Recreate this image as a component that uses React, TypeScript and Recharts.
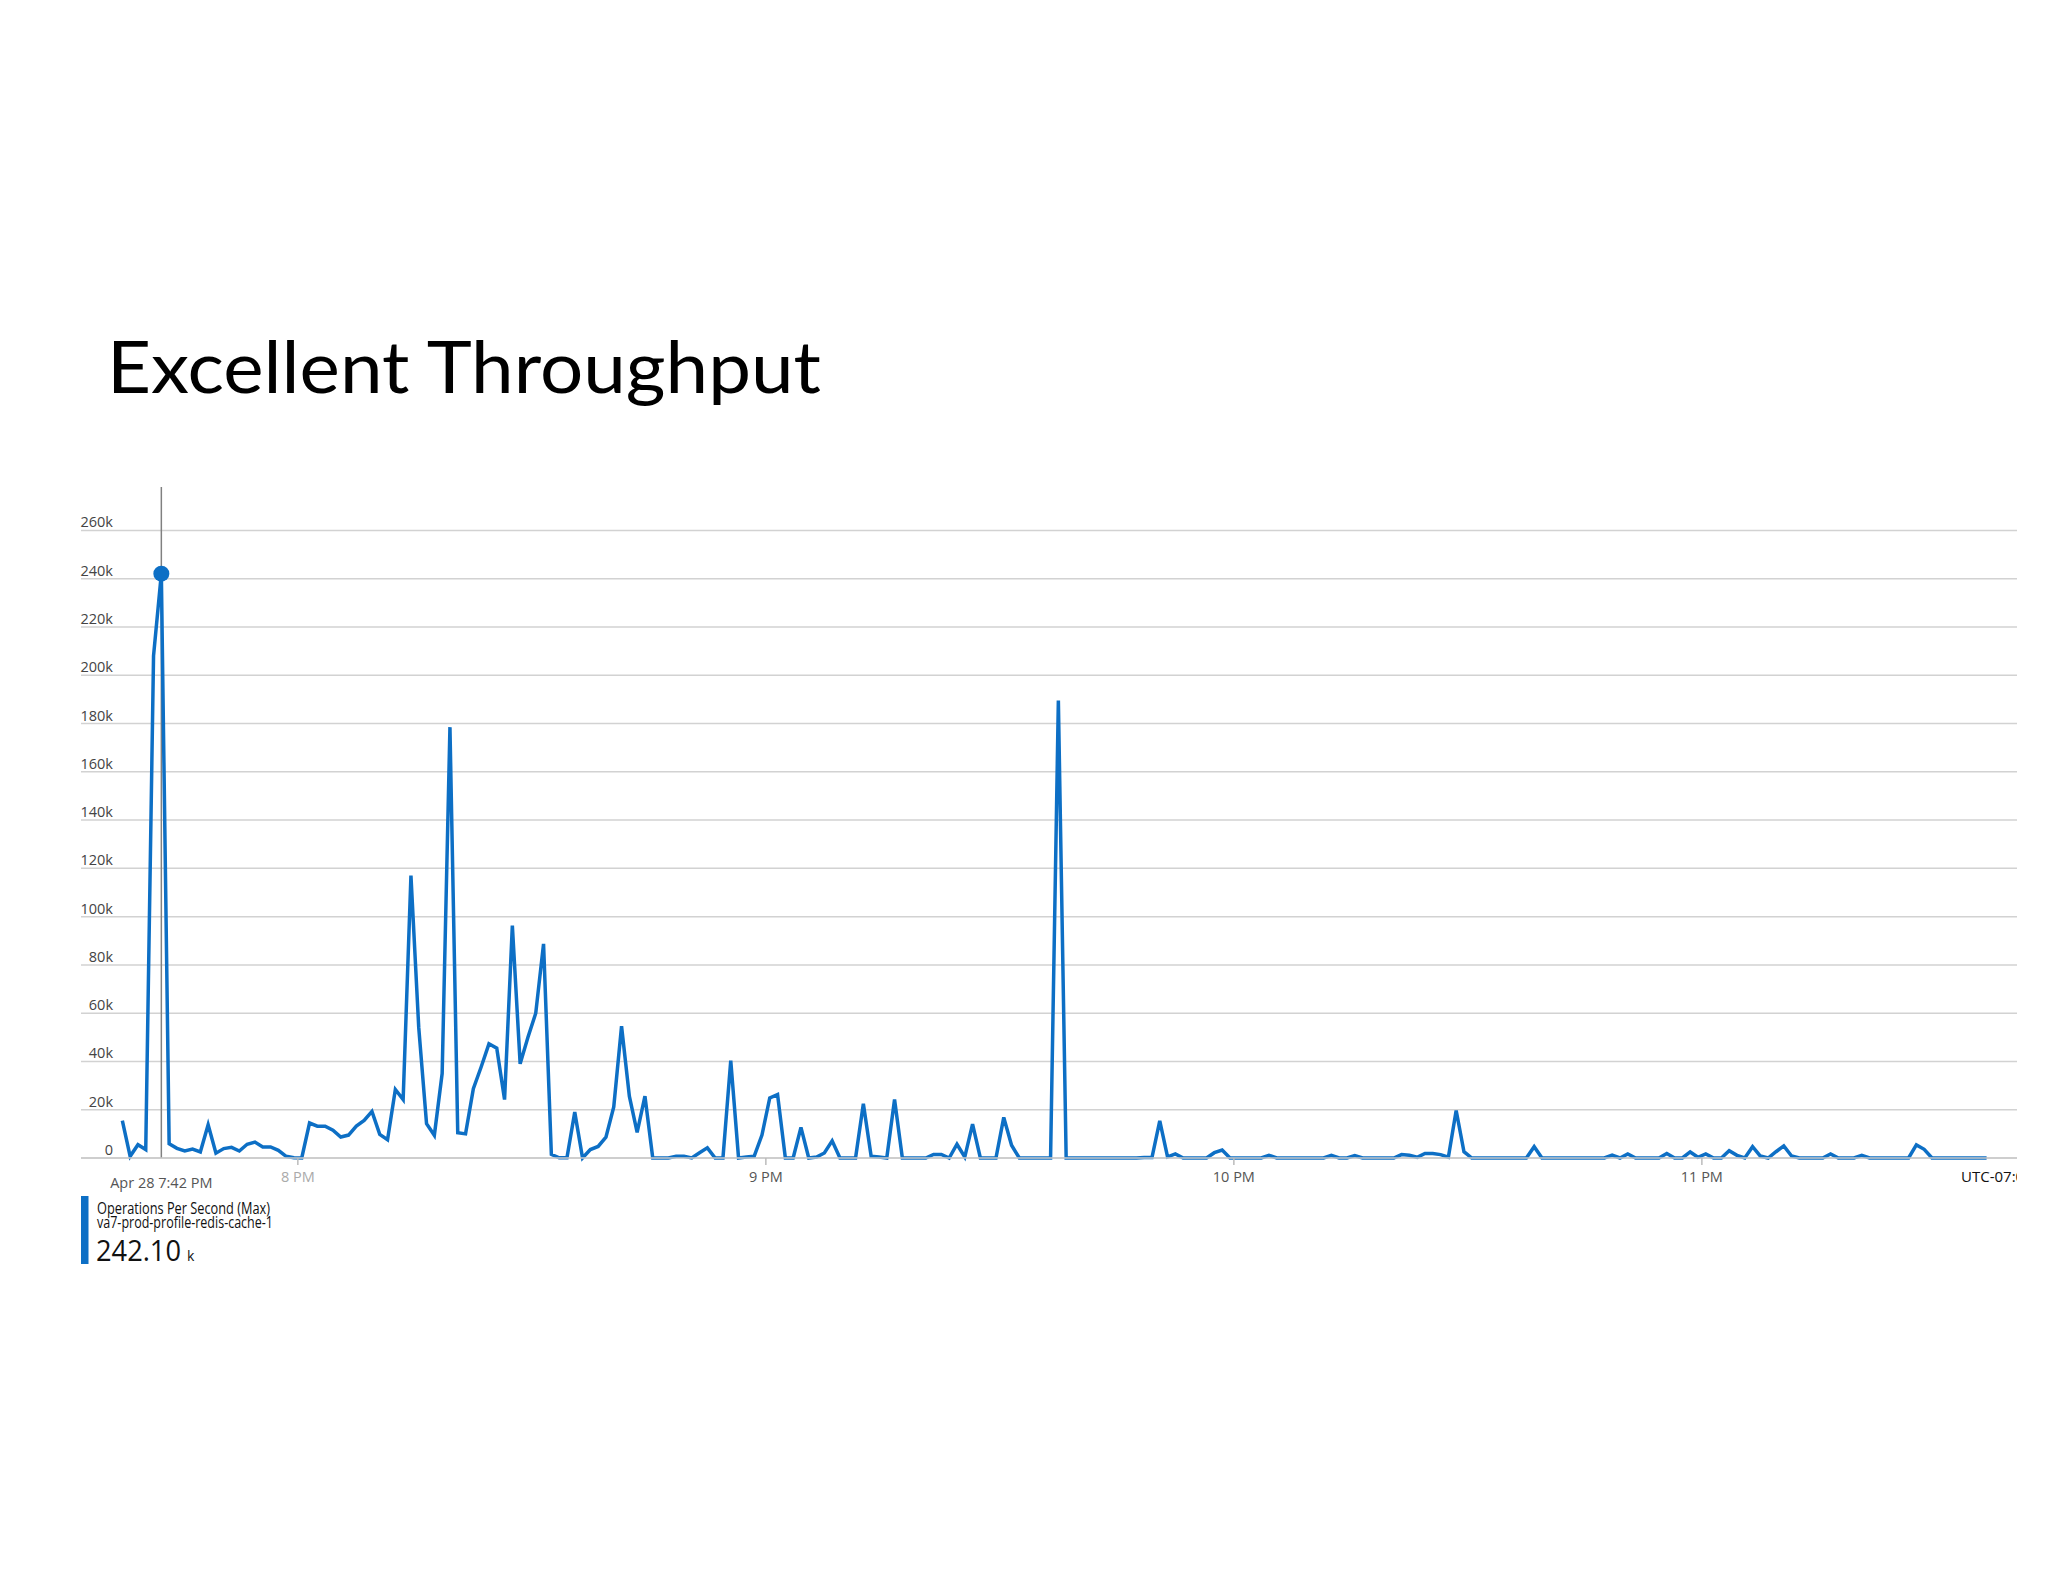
import { CartesianGrid, Line, LineChart, ReferenceDot, ReferenceLine, XAxis, YAxis } from 'recharts'

// minutes relative to 8 PM, one sample per minute (7:37:30 PM .. 11:36:30 PM)
const START_MINUTE = -22.5

// Operations Per Second (Max), in thousands
const OPS_K = [
  15.5, 0.7, 5.5, 3.5, 208, 242.1, 5.9, 4.0, 2.9, 3.7, 2.5, 13.8, 2.0, 3.9, 4.4, 2.9, 5.7, 6.6, 4.6, 4.6, 3.2, 0.7, 0.1,
  0, 14.5, 13.2, 13.2, 11.5, 8.7, 9.5, 13.2, 15.6, 19.3,
  9.8, 7.6, 28.4, 24.2, 117, 54, 14.2, 9.4, 35, 178.5,
  10.5, 10.0, 28.7, 37.7, 47.3, 45.5, 24.2, 96.3, 39, 50,
  60, 88.7, 1.5, 0.1, 0.1, 19, 0, 3.5, 4.8, 8.6,
  21.2,
  54.6, 25.6, 10.6, 25.6, 0, 0, 0, 0.7, 0.7, 0,
  2.2, 4.2, 0, 0, 40.3, 0, 0.4, 0.7, 9.5, 24.9,
  26.3, 0, 0, 12.7, 0, 0.4, 2.1, 7.1, 0, 0,
  0, 22.5, 0.7, 0.4, 0, 24.2, 0, 0, 0, 0,
  1.5, 1.5, 0, 5.7, 0.4, 14, 0, 0, 0, 16.8,
  5.3, 0, 0, 0, 0, 0, 189.5, 0, 0, 0,
  0, 0, 0, 0, 0, 0, 0, 0.2, 0.2, 15.4,
  0.5, 1.7, 0, 0, 0, 0, 2.2, 3.3, 0, 0,
  0, 0, 0, 1.1, 0, 0, 0, 0, 0, 0,
  0, 1.1, 0, 0, 1.0, 0, 0, 0, 0, 0,
  1.4, 1.1, 0.3, 1.9, 1.9, 1.4, 0.3, 19.7, 2.6, 0,
  0, 0, 0, 0, 0, 0, 0, 4.7, 0, 0,
  0, 0, 0, 0, 0, 0, 0, 1.2, 0, 1.7,
  0, 0, 0, 0, 1.9, 0, 0, 2.5, 0.3, 1.7,
  0, 0, 3.0, 1.1, 0, 4.7, 0.8, 0, 2.6, 5.0,
  0.8, 0, 0, 0, 0, 1.7, 0, 0, 0, 1.1,
  0, 0, 0, 0, 0, 0, 5.4, 3.6, 0, 0,
  0, 0, 0, 0, 0, 0,
]

const Y_TICKS = [0, 20, 40, 60, 80, 100, 120, 140, 160, 180, 200, 220, 240, 260]
const HOUR_TICKS = [0, 60, 120, 180]
const HOUR_LABELS = ['8 PM', '9 PM', '10 PM', '11 PM']

const CURSOR_MINUTE = -17.5
const CURSOR_VALUE = 242.1
const CURSOR_LABEL = 'Apr 28 7:42 PM'

const BLUE = '#0d6fc5'
const FONT = '"Open Sans", "Noto Sans", sans-serif'

const data = OPS_K.map((v, i) => ({ t: START_MINUTE + i, ops: v }))

function YTick({ x, y, payload }: any) {
  return (
    <text x={x + 32} y={y - 3} textAnchor="end" fontSize={14.5} fill="#444" fontFamily={FONT}>
      {payload.value === 0 ? '0' : `${payload.value}k`}
    </text>
  )
}

function XTick({ x, y, payload }: any) {
  const idx = HOUR_TICKS.indexOf(payload.value)
  return (
    <g>
      <line x1={x} x2={x} y1={y} y2={y + 7} stroke="#bbb" strokeWidth={1.5} />
      <text
        x={x}
        y={y + 24}
        textAnchor="middle"
        fontSize={14.5}
        fill={payload.value === 0 ? '#aaa' : '#555'}
        fontFamily={FONT}
      >
        {HOUR_LABELS[idx]}
      </text>
    </g>
  )
}

function CursorLabel({ viewBox }: any) {
  return (
    <text
      x={viewBox.x}
      y={viewBox.y + viewBox.height + 30}
      textAnchor="middle"
      fontSize={14.5}
      fill="#555"
      fontFamily={FONT}
    >
      {CURSOR_LABEL}
    </text>
  )
}

export default function App() {
  return (
    <div style={{ position: 'relative', width: 2048, height: 1582, background: '#fff', overflow: 'hidden' }}>
      <style>{'body{margin:0}'}</style>
      <svg width={2048} height={1582} style={{ position: 'absolute', left: 0, top: 0 }}>
        <text
          x={107}
          y={393}
          fontSize={72}
          fontFamily="Lato, sans-serif"
          fill="#000"
          textLength={714}
          lengthAdjust="spacingAndGlyphs"
        >
          Excellent Throughput
        </text>
      </svg>
      <div style={{ position: 'absolute', left: 0, top: 0 }}>
        <LineChart width={2048} height={1582} data={data} margin={{ top: 487, right: 31, bottom: 394, left: 81 }}>
          <CartesianGrid horizontal vertical={false} horizontalValues={Y_TICKS} stroke="#d2d2d2" strokeWidth={1.5} />
          <XAxis
            dataKey="t"
            type="number"
            domain={[-27.8, 220.4]}
            ticks={HOUR_TICKS}
            allowDataOverflow
            height={30}
            tickSize={0}
            tickMargin={0}
            axisLine={{ stroke: '#c8c8c8', strokeWidth: 1.5 }}
            tickLine={false}
            tick={<XTick />}
          />
          <YAxis
            type="number"
            domain={[0, 278]}
            ticks={Y_TICKS}
            mirror
            width={40}
            tickSize={0}
            tickMargin={0}
            axisLine={false}
            tickLine={false}
            tick={<YTick />}
          />
          <ReferenceLine x={CURSOR_MINUTE} stroke="#808080" strokeWidth={1.5} label={<CursorLabel />} />
          <Line
            type="linear"
            dataKey="ops"
            stroke={BLUE}
            strokeWidth={3.5}
            dot={false}
            activeDot={false}
            isAnimationActive={false}
          />
          <ReferenceDot x={CURSOR_MINUTE} y={CURSOR_VALUE} r={8} fill={BLUE} stroke="none" />
        </LineChart>
      </div>
      <div
        style={{
          position: 'absolute',
          left: 1961,
          top: 1166,
          width: 56,
          overflow: 'hidden',
          whiteSpace: 'nowrap',
          fontFamily: FONT,
          fontSize: 15,
          color: '#111',
        }}
      >
        UTC-07:00
      </div>
      <svg width={400} height={120} style={{ position: 'absolute', left: 0, top: 1180 }}>
        <rect x={81} y={16} width={7.5} height={68} fill={BLUE} />
        <text x={97} y={34} fontSize={16} fill="#111" fontFamily={FONT} textLength={173} lengthAdjust="spacingAndGlyphs">
          Operations Per Second (Max)
        </text>
        <text x={97} y={48} fontSize={16} fill="#111" fontFamily={FONT} textLength={176} lengthAdjust="spacingAndGlyphs">
          va7-prod-profile-redis-cache-1
        </text>
        <text x={96} y={80.7} fontSize={29} fill="#111" fontFamily={FONT} textLength={85} lengthAdjust="spacingAndGlyphs">
          242.10
        </text>
        <text x={187} y={80.7} fontSize={14} fill="#111" fontFamily={FONT}>
          k
        </text>
      </svg>
    </div>
  )
}
